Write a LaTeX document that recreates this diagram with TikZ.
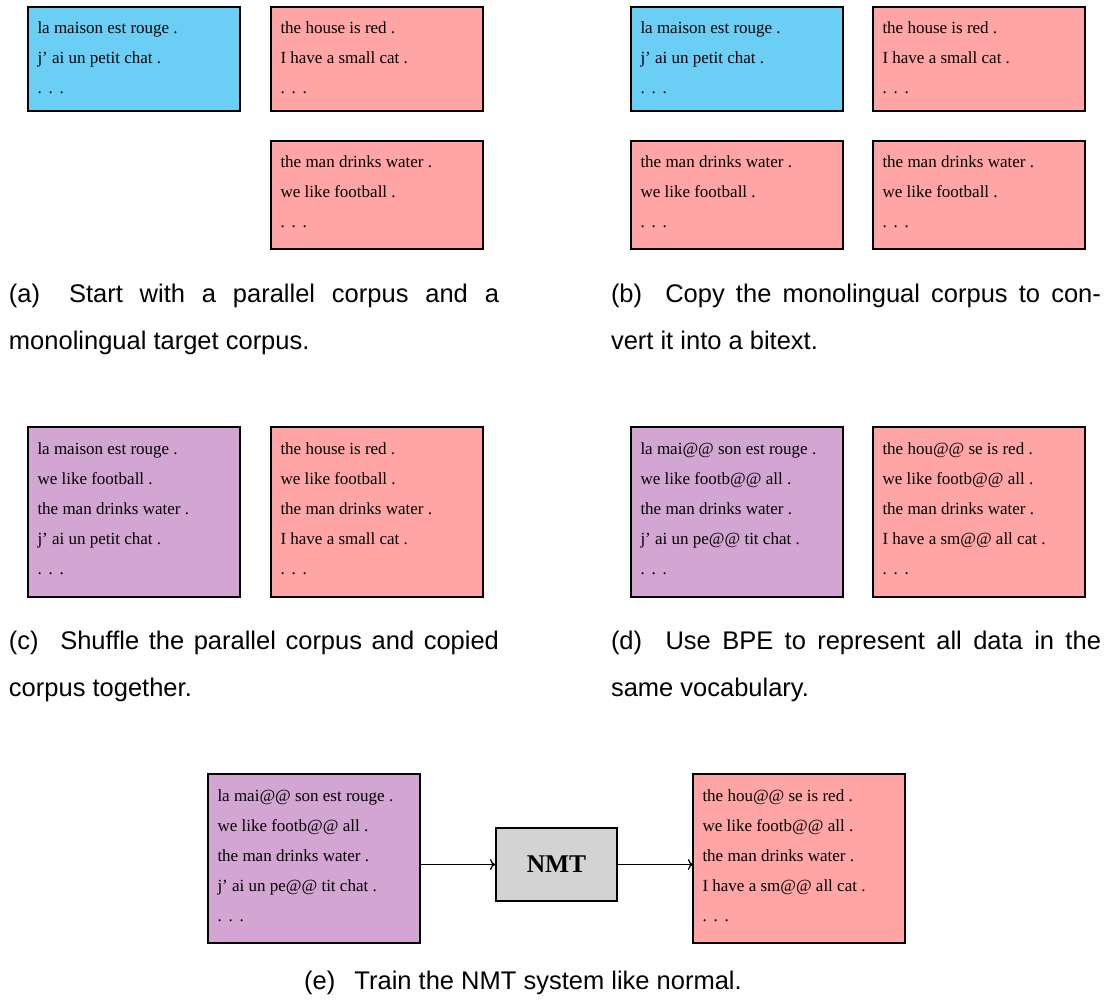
\documentclass[tikz,border=0pt]{standalone}
\usepackage{fontspec}
\newfontfamily\boxfont{Liberation Serif}
\newfontfamily\capfont{Liberation Sans}
\usetikzlibrary{arrows.meta}
\definecolor{srcblue}{RGB}{106,206,245}
\definecolor{tgtpink}{RGB}{255,165,165}
\definecolor{mixpurple}{RGB}{210,165,211}
\definecolor{nmtgray}{RGB}{211,211,211}
\newcommand\threedots{.\kern6.8pt.\kern6.8pt.}
\newcommand\corpuslines[2]{\parbox[t][#1][t]{212pt}{\raggedright\leftskip=9.5pt\setlength\baselineskip{30pt}\rule{0pt}{27pt}#2}}
\newcommand\capline[1]{\parbox[t]{490pt}{\setlength\baselineskip{47pt}#1}}
\tikzset{
  corpus/.style={draw=black, line width=1.8pt, anchor=north west, inner sep=0pt, outer sep=0pt,
    font=\boxfont\fontsize{17}{30}\selectfont},
  caption/.style={inner sep=0pt, outer sep=0pt, anchor=base west, font=\capfont\fontsize{25.5}{47}\selectfont},
  flow/.style={line width=1.3pt, -{To[scale=1.15]}}
}
\begin{document}
\begin{tikzpicture}[x=1pt,y=1pt]
\useasboundingbox (0,0) rectangle (1116,-1000);
% (a)
\node[corpus, fill=srcblue] (a1) at (28,-7) {\corpuslines{104pt}{la maison est rouge .\\j’ ai un petit chat .\\\threedots}};
\node[corpus, fill=tgtpink] (a2) at (271,-7) {\corpuslines{104pt}{the house is red .\\I have a small cat .\\\threedots}};
\node[corpus, fill=tgtpink] (a3) at (271,-141) {\corpuslines{108pt}{the man drinks water .\\we like football .\\\threedots}};
\node[caption] (capa) at (9,-302) {\capline{(a)\hspace{12pt} Start with a parallel corpus and a\linebreak monolingual target corpus.}};
% (b)
\node[corpus, fill=srcblue] (b1) at (631,-7) {\corpuslines{104pt}{la maison est rouge .\\j’ ai un petit chat .\\\threedots}};
\node[corpus, fill=tgtpink] (b2) at (873,-7) {\corpuslines{104pt}{the house is red .\\I have a small cat .\\\threedots}};
\node[corpus, fill=tgtpink] (b3) at (631,-141) {\corpuslines{108pt}{the man drinks water .\\we like football .\\\threedots}};
\node[corpus, fill=tgtpink] (b4) at (873,-141) {\corpuslines{108pt}{the man drinks water .\\we like football .\\\threedots}};
\node[caption] (capb) at (611,-302) {\capline{(b)\hspace{12pt} Copy the monolingual corpus to con-\linebreak vert it into a bitext.}};
% (c)
\node[corpus, fill=mixpurple] (c1) at (28,-427) {\corpuslines{170pt}{la maison est rouge .\\we like football .\\the man drinks water .\\j’ ai un petit chat .\\\threedots}};
\node[corpus, fill=tgtpink] (c2) at (271,-427) {\corpuslines{170pt}{the house is red .\\we like football .\\the man drinks water .\\I have a small cat .\\\threedots}};
\node[caption] (capc) at (9,-649) {\capline{(c)\hspace{12pt} Shuffle the parallel corpus and copied\linebreak corpus together.}};
% (d)
\node[corpus, fill=mixpurple] (d1) at (631,-427) {\corpuslines{170pt}{la mai@@ son est rouge .\\we like footb@@ all .\\the man drinks water .\\j’ ai un pe@@ tit chat .\\\threedots}};
\node[corpus, fill=tgtpink] (d2) at (873,-427) {\corpuslines{170pt}{the hou@@ se is red .\\we like footb@@ all .\\the man drinks water .\\I have a sm@@ all cat .\\\threedots}};
\node[caption] (capd) at (611,-649) {\capline{(d)\hspace{12pt} Use BPE to represent all data in the\linebreak same vocabulary.}};
% (e)
\node[corpus, fill=mixpurple] (e1) at (208,-774) {\corpuslines{169pt}{la mai@@ son est rouge .\\we like footb@@ all .\\the man drinks water .\\j’ ai un pe@@ tit chat .\\\threedots}};
\node[draw=black, line width=1.8pt, fill=nmtgray, minimum width=121pt, minimum height=73pt, inner sep=0pt,
  font=\boxfont\bfseries\fontsize{25.5}{30}\selectfont] (nmt) at (556.5,-864.5) {NMT};
\node[corpus, fill=tgtpink] (e2) at (693,-774) {\corpuslines{169pt}{the hou@@ se is red .\\we like footb@@ all .\\the man drinks water .\\I have a sm@@ all cat .\\\threedots}};
\draw[flow] (nmt.west -| e1.east) -- (nmt.west);
\draw[flow] (nmt.east) -- (nmt.east -| e2.west);
\node[caption, anchor=base] (cape) at (523,-989) {(e)\hspace{12pt} Train the NMT system like normal.};
\end{tikzpicture}
\end{document}
